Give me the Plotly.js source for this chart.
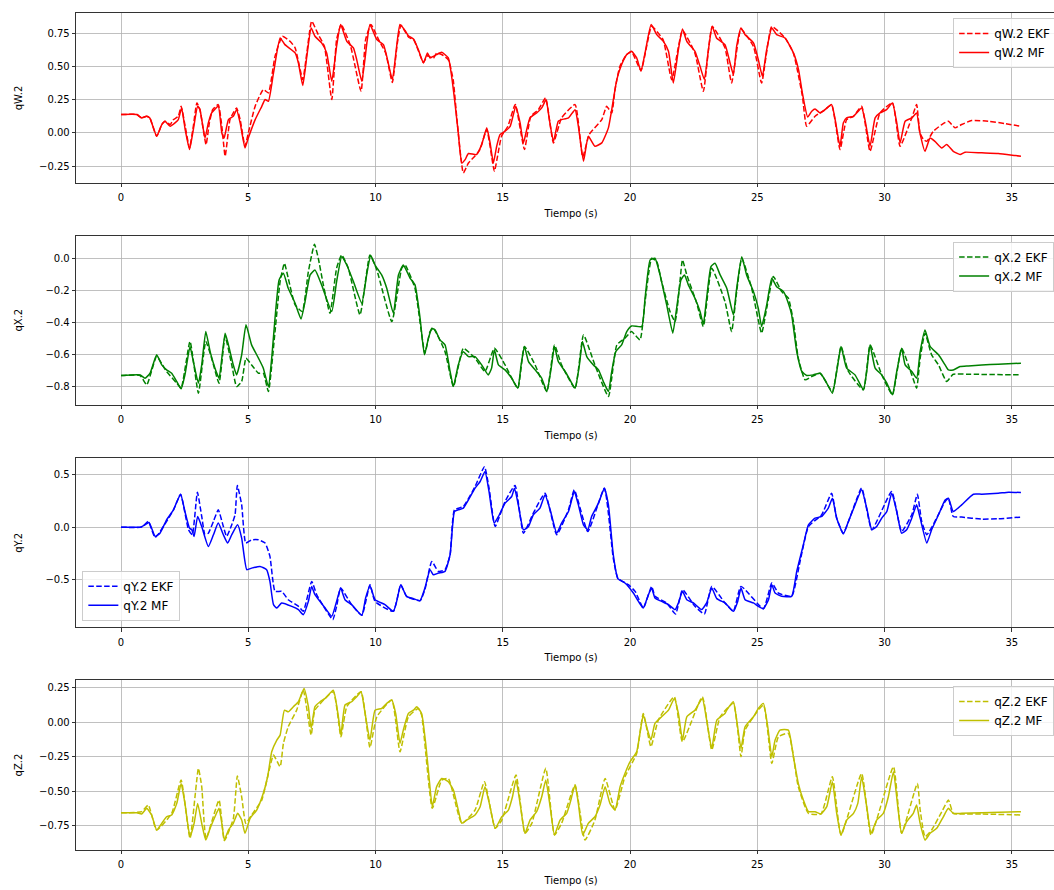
<!DOCTYPE html>
<html>
<head>
<meta charset="utf-8">
<script src="https://cdn.plot.ly/plotly-3.0.1.min.js"></script>
<style>
html,body{margin:0;padding:0;overflow:hidden;background:#fff;}
#chart{width:1080px;height:890px;}
</style>
</head>
<body>
<div id="chart"></div>
<script>
// ---------- qW.2 ----------
const tW_MF = [0,0.62,0.81,1.0,1.13,1.40,1.60,1.73,1.93,2.12,
2.25,2.38,2.52,2.69,2.84,3.01,3.10,3.30,3.43,3.56,
3.82,3.96,4.05,4.22,4.41,4.54,4.68,4.87,5.00,5.27,
5.53,5.66,5.79,5.99,6.25,6.44,6.84,6.97,7.14,7.30,
7.47,7.62,7.88,8.08,8.28,8.47,8.63,8.87,9.13,9.26,
9.46,9.66,9.78,10.05,10.31,10.44,10.66,10.83,10.96,11.16,
11.29,11.49,11.68,11.88,12.04,12.14,12.27,12.40,12.60,12.86,
12.99,13.12,13.25,13.39,13.52,13.65,13.97,14.17,14.37,14.50,
14.63,14.76,14.89,15.09,15.29,15.51,15.68,15.81,15.94,16.07,
16.33,16.53,16.70,16.83,16.99,17.18,17.31,17.58,17.84,17.97,
18.17,18.36,18.62,18.89,19.15,19.28,19.48,19.67,19.87,20.06,
20.26,20.43,20.59,20.83,21.05,21.31,21.51,21.70,21.90,22.06,
22.23,22.55,22.75,22.92,23.08,23.23,23.40,23.73,23.93,24.06,
24.19,24.36,24.52,24.85,25.04,25.20,25.37,25.57,25.76,26.09,
26.42,26.62,26.77,26.98,27.14,27.27,27.47,27.66,27.92,28.06,
28.25,28.38,28.51,28.78,29.10,29.23,29.43,29.63,29.82,30.08,
30.31,30.48,30.61,30.81,31.07,31.26,31.39,31.59,31.79,31.98,
32.25,32.44,32.70,32.97,33.16,33.82,34.47,35.13,35.36];
const qW_MF = [0.138,0.138,0.113,0.125,0.113,-0.025,0.063,0.088,0.050,0.075,
0.100,0.188,0.025,-0.125,0.025,0.200,0.175,-0.038,0.075,0.150,
0.200,0.000,-0.038,0.100,0.125,0.175,0.075,-0.113,-0.038,0.100,
0.200,0.251,0.238,0.451,0.714,0.664,0.602,0.526,0.356,0.576,
0.789,0.727,0.677,0.602,0.388,0.652,0.815,0.689,0.639,0.551,
0.388,0.677,0.815,0.702,0.664,0.576,0.401,0.652,0.815,0.770,
0.731,0.706,0.627,0.526,0.602,0.564,0.576,0.589,0.606,0.564,
0.426,0.226,0.000,-0.226,-0.201,-0.155,-0.163,-0.088,0.038,-0.075,
-0.226,-0.100,-0.013,0.013,0.050,0.201,0.075,-0.075,0.025,0.113,
0.150,0.188,0.251,0.100,-0.063,0.088,0.100,0.113,0.175,0.050,
-0.213,-0.025,-0.100,-0.075,0.038,0.175,0.401,0.514,0.589,0.614,
0.564,0.464,0.602,0.815,0.739,0.689,0.614,0.376,0.627,0.782,
0.689,0.614,0.501,0.401,0.627,0.802,0.714,0.664,0.526,0.439,
0.652,0.789,0.739,0.677,0.551,0.426,0.627,0.789,0.739,0.714,
0.602,0.476,0.301,0.120,0.163,0.180,0.150,0.175,0.213,0.100,
-0.100,0.075,0.113,0.125,0.188,0.100,-0.100,0.113,0.150,0.175,
0.226,0.075,-0.075,0.088,0.113,0.150,0.000,-0.138,-0.038,-0.063,
-0.113,-0.088,-0.138,-0.163,-0.145,-0.150,-0.155,-0.170,-0.175];
const tW_EKF = [0,0.62,0.81,1.0,1.13,1.40,1.60,1.73,1.93,2.06,
2.25,2.36,2.52,2.69,2.84,2.98,3.10,3.34,3.47,3.60,
3.82,3.96,4.09,4.28,4.41,4.54,4.68,4.87,5.00,5.27,
5.59,5.79,6.05,6.34,6.64,6.84,7.14,7.30,7.49,7.75,
7.99,8.28,8.47,8.65,9.02,9.43,9.61,9.82,10.12,10.40,
10.66,10.86,11.00,11.30,11.50,11.68,11.88,12.04,12.27,12.40,
12.60,12.86,13.05,13.20,13.45,13.65,13.90,14.10,14.37,14.50,
14.67,14.95,15.20,15.49,15.85,16.10,16.40,16.68,16.99,17.31,
17.84,18.14,18.40,18.89,19.08,19.28,19.41,19.60,19.87,20.06,
20.43,20.85,21.30,21.64,22.06,22.55,22.88,23.23,23.73,23.99,
24.36,24.85,25.17,25.57,26.09,26.42,26.77,26.94,27.27,27.66,
27.92,28.25,28.51,28.78,29.10,29.43,29.82,30.31,30.61,31.07,
31.26,31.39,31.53,31.66,31.92,32.25,32.51,32.77,33.03,33.42,
34.08,34.73,35.36];
const qW_EKF = [0.138,0.138,0.113,0.125,0.113,-0.025,0.063,0.088,0.063,0.100,
0.125,0.201,0.050,-0.113,0.050,0.226,0.175,-0.088,0.075,0.175,
0.213,0.050,-0.175,0.100,0.150,0.188,0.100,-0.100,0.000,0.201,
0.326,0.301,0.576,0.727,0.689,0.640,0.401,0.602,0.840,0.739,
0.652,0.251,0.702,0.815,0.652,0.313,0.702,0.815,0.702,0.600,
0.380,0.680,0.810,0.720,0.700,0.620,0.530,0.580,0.560,0.600,
0.590,0.550,0.400,0.100,-0.301,-0.226,-0.175,-0.125,0.025,-0.100,
-0.288,-0.025,0.050,0.213,-0.125,0.125,0.175,0.263,-0.075,0.113,
0.213,-0.180,-0.010,0.100,0.200,0.150,0.326,0.500,0.590,0.610,
0.470,0.800,0.700,0.400,0.770,0.600,0.313,0.800,0.640,0.376,
0.780,0.650,0.376,0.800,0.714,0.600,0.280,0.050,0.125,0.175,
0.213,-0.125,0.100,0.125,0.200,-0.138,0.150,0.226,-0.100,0.113,
0.213,0.000,-0.050,-0.063,0.013,0.063,0.088,0.038,0.063,0.093,
0.088,0.070,0.050];

// ---------- qX.2 ----------
const tX_MF = [0,0.75,0.94,1.14,1.40,1.60,1.79,1.99,2.19,2.36,
2.51,2.71,2.84,3.04,3.17,3.33,3.50,3.69,3.85,3.96,
4.09,4.22,4.41,4.54,4.74,4.91,5.13,5.40,5.59,5.79,
5.92,6.05,6.21,6.38,6.57,6.84,7.07,7.23,7.43,7.62,
7.88,8.28,8.47,8.67,8.87,9.13,9.46,9.65,9.81,9.98,
10.24,10.44,10.70,10.90,11.09,11.36,11.55,11.75,11.92,12.08,
12.21,12.34,12.53,12.73,12.93,13.06,13.25,13.45,13.65,13.91,
14.17,14.43,14.56,14.67,14.83,15.09,15.35,15.59,15.72,15.85,
16.01,16.27,16.53,16.73,16.90,17.03,17.18,17.45,17.64,17.84,
18.01,18.13,18.30,18.56,18.76,18.95,19.15,19.28,19.44,19.67,
19.87,20.06,20.46,20.59,20.79,20.98,21.18,21.44,21.68,21.83,
22.00,22.14,22.29,22.55,22.75,22.88,23.01,23.18,23.34,23.54,
23.80,24.06,24.19,24.39,24.58,24.85,25.04,25.17,25.37,25.57,
25.76,26.03,26.22,26.35,26.55,26.75,26.94,27.20,27.47,27.66,
27.95,28.12,28.29,28.51,28.84,29.17,29.30,29.43,29.63,29.89,
30.09,30.31,30.48,30.67,30.81,31.07,31.26,31.40,31.59,31.79,
32.12,32.38,32.51,32.70,32.97,33.29,33.82,34.47,35.36];
const qX_MF = [-0.731,-0.727,-0.748,-0.717,-0.602,-0.665,-0.696,-0.717,-0.769,-0.814,
-0.727,-0.550,-0.644,-0.779,-0.665,-0.457,-0.582,-0.685,-0.748,-0.623,
-0.467,-0.540,-0.665,-0.727,-0.602,-0.415,-0.540,-0.623,-0.685,-0.800,
-0.623,-0.374,-0.135,-0.093,-0.187,-0.280,-0.378,-0.270,-0.104,-0.073,
-0.166,-0.332,-0.145,0.010,-0.042,-0.145,-0.280,-0.104,0.017,-0.042,
-0.104,-0.187,-0.343,-0.104,-0.042,-0.125,-0.166,-0.374,-0.602,-0.498,
-0.436,-0.447,-0.509,-0.540,-0.706,-0.800,-0.665,-0.582,-0.613,-0.613,
-0.665,-0.727,-0.685,-0.571,-0.665,-0.696,-0.748,-0.810,-0.665,-0.550,
-0.644,-0.696,-0.748,-0.831,-0.685,-0.550,-0.644,-0.706,-0.758,-0.810,
-0.665,-0.519,-0.613,-0.665,-0.696,-0.768,-0.831,-0.706,-0.582,-0.540,
-0.457,-0.422,-0.426,-0.249,-0.010,0.000,-0.104,-0.291,-0.467,-0.312,
-0.135,-0.104,-0.166,-0.249,-0.332,-0.411,-0.249,-0.052,-0.031,-0.104,
-0.187,-0.353,-0.187,0.010,-0.104,-0.208,-0.312,-0.426,-0.291,-0.125,
-0.177,-0.208,-0.280,-0.353,-0.582,-0.706,-0.731,-0.727,-0.717,-0.758,
-0.841,-0.706,-0.550,-0.685,-0.727,-0.820,-0.706,-0.540,-0.685,-0.727,
-0.779,-0.851,-0.706,-0.561,-0.665,-0.706,-0.748,-0.582,-0.447,-0.550,
-0.602,-0.665,-0.696,-0.696,-0.675,-0.671,-0.665,-0.660,-0.654];
const tX_EKF = [0,0.75,1.01,1.40,1.79,2.19,2.36,2.71,3.04,3.33,
3.56,3.85,4.09,4.35,4.54,4.74,4.91,5.13,5.40,5.59,
5.79,6.05,6.25,6.42,6.57,6.84,7.12,7.36,7.60,7.75,
7.95,8.21,8.47,8.67,8.93,9.39,9.78,10.05,10.64,11.03,
11.16,11.55,11.94,12.14,12.27,12.73,13.06,13.45,13.91,14.30,
14.67,15.09,15.59,15.85,16.27,16.73,17.03,17.31,17.84,18.17,
18.62,19.15,19.48,19.80,20.06,20.39,20.59,20.85,21.05,21.24,
21.57,21.77,21.96,22.06,22.23,22.62,22.88,23.21,23.73,23.99,
24.19,24.39,24.78,25.17,25.37,25.63,25.96,26.22,26.42,26.61,
26.88,27.14,27.47,27.95,28.29,28.58,29.17,29.43,29.89,30.31,
30.67,31.07,31.26,31.40,31.59,31.85,32.12,32.44,32.70,33.29,
35.36];
const qX_EKF = [-0.731,-0.731,-0.789,-0.613,-0.706,-0.779,-0.810,-0.519,-0.841,-0.519,
-0.623,-0.779,-0.488,-0.665,-0.800,-0.768,-0.623,-0.665,-0.717,-0.717,
-0.831,-0.457,-0.145,-0.031,-0.125,-0.291,-0.332,-0.083,0.087,0.000,
-0.166,-0.343,-0.062,0.021,-0.062,-0.353,0.021,-0.073,-0.395,-0.062,
-0.042,-0.187,-0.592,-0.457,-0.436,-0.582,-0.800,-0.561,-0.623,-0.706,
-0.561,-0.665,-0.810,-0.550,-0.665,-0.831,-0.540,-0.665,-0.810,-0.478,
-0.665,-0.862,-0.540,-0.498,-0.457,-0.509,-0.270,0.000,-0.021,-0.145,
-0.332,-0.395,-0.145,-0.010,-0.104,-0.280,-0.426,-0.062,-0.270,-0.457,
-0.208,0.000,-0.187,-0.467,-0.312,-0.114,-0.208,-0.249,-0.395,-0.623,
-0.758,-0.737,-0.717,-0.831,-0.550,-0.706,-0.820,-0.540,-0.727,-0.851,
-0.561,-0.727,-0.810,-0.623,-0.467,-0.602,-0.665,-0.768,-0.723,-0.723,
-0.727];

// ---------- qY.2 ----------
const tY_MF = [0,0.75,0.94,1.10,1.34,1.53,1.79,2.06,2.34,2.51,
2.69,2.78,2.87,3.01,3.17,3.43,3.63,3.82,4.02,4.19,
4.35,4.58,4.74,4.94,5.13,5.46,5.72,5.85,5.99,6.12,
6.31,6.71,6.97,7.16,7.36,7.49,7.62,8.02,8.28,8.47,
8.63,8.80,9.06,9.46,9.61,9.78,9.98,10.37,10.70,10.83,
10.99,11.22,11.49,11.75,11.94,12.14,12.27,12.47,12.73,12.93,
13.10,13.25,13.45,13.65,13.91,14.11,14.30,14.46,14.66,14.83,
15.09,15.35,15.46,15.61,15.81,16.01,16.20,16.46,16.66,16.86,
17.12,17.31,17.58,17.81,17.97,18.17,18.34,18.49,18.76,18.99,
19.15,19.34,19.52,19.80,20.13,20.33,20.52,20.72,20.85,20.98,
21.24,21.51,21.77,21.90,22.06,22.23,22.49,22.81,23.01,23.21,
23.41,23.73,23.86,24.06,24.23,24.36,24.52,24.85,25.04,25.24,
25.44,25.57,25.70,25.96,26.35,26.55,26.81,27.01,27.27,27.53,
27.79,27.95,28.12,28.38,28.58,28.84,29.10,29.30,29.50,29.69,
29.89,30.09,30.28,30.48,30.67,30.87,31.07,31.26,31.40,31.66,
31.85,32.12,32.38,32.51,32.70,33.03,33.49,33.82,34.47,34.87,
35.36];
const qY_MF = [0,0,0.022,0.044,-0.088,-0.057,0.069,0.164,0.312,0.148,
-0.009,-0.025,-0.088,0.101,0.006,-0.183,-0.072,0.038,-0.072,-0.151,
-0.072,0.022,-0.104,-0.403,-0.388,-0.372,-0.403,-0.514,-0.734,-0.766,
-0.718,-0.750,-0.781,-0.829,-0.703,-0.561,-0.640,-0.766,-0.844,-0.703,
-0.577,-0.687,-0.734,-0.835,-0.671,-0.555,-0.687,-0.734,-0.797,-0.703,
-0.545,-0.655,-0.677,-0.696,-0.577,-0.403,-0.451,-0.435,-0.419,-0.261,
0.148,0.164,0.180,0.258,0.369,0.432,0.526,0.337,0.038,0.101,
0.227,0.290,0.369,0.211,-0.025,0.006,0.117,0.180,0.306,0.164,
-0.057,0.038,0.148,0.337,0.211,0.022,-0.025,0.101,0.227,0.369,
0.211,-0.261,-0.488,-0.529,-0.624,-0.703,-0.766,-0.640,-0.577,-0.671,
-0.703,-0.734,-0.781,-0.718,-0.608,-0.687,-0.718,-0.781,-0.718,-0.577,
-0.677,-0.718,-0.750,-0.797,-0.703,-0.577,-0.687,-0.718,-0.750,-0.772,
-0.687,-0.545,-0.624,-0.655,-0.655,-0.419,-0.167,0.022,0.085,0.101,
0.180,0.274,0.085,-0.066,0.054,0.211,0.353,0.180,-0.025,0.006,
0.085,0.148,0.321,0.148,-0.057,-0.025,0.085,0.211,0.085,-0.151,
-0.025,0.117,0.258,0.274,0.148,0.211,0.312,0.312,0.321,0.331,
0.328];
const tY_EKF = [0,0.81,1.07,1.34,2.06,2.34,2.65,2.80,3.00,3.17,
3.30,3.43,3.63,3.82,4.02,4.15,4.35,4.48,4.57,4.74,
4.90,5.13,5.40,5.66,5.85,6.05,6.31,6.57,6.97,7.16,
7.49,7.69,8.08,8.32,8.47,8.63,9.06,9.46,9.78,9.98,
10.70,10.99,11.22,11.75,11.94,12.21,12.47,12.73,12.93,13.10,13.45,
13.91,14.28,14.46,14.70,15.09,15.48,15.81,16.20,16.66,17.12,
17.58,17.81,18.34,18.99,19.34,19.52,19.93,20.20,20.52,20.85,
20.98,21.44,21.79,22.06,22.55,22.92,23.21,23.73,24.06,24.36,
25.24,25.57,25.83,26.35,26.68,27.01,27.53,27.92,28.12,28.38,
29.10,29.50,30.28,30.67,31.07,31.29,31.46,31.66,31.98,32.38,
32.51,32.70,33.03,33.82,34.47,35.36];
const qY_EKF = [0,0,0.054,-0.098,0.164,0.312,-0.025,-0.072,0.331,0.101,
-0.072,-0.057,0.054,0.164,0.006,-0.088,0.022,0.117,0.394,0.211,
-0.151,-0.120,-0.120,-0.151,-0.277,-0.608,-0.608,-0.687,-0.750,-0.797,
-0.514,-0.640,-0.797,-0.876,-0.750,-0.577,-0.734,-0.835,-0.545,-0.703,
-0.797,-0.545,-0.655,-0.696,-0.590,-0.325,-0.419,-0.403,-0.261,0.164,0.195,
0.384,0.573,0.369,0.006,0.243,0.394,-0.057,0.132,0.321,-0.072,
0.164,0.353,-0.041,0.369,-0.293,-0.482,-0.545,-0.608,-0.766,-0.561,
-0.655,-0.718,-0.822,-0.592,-0.750,-0.822,-0.561,-0.718,-0.797,-0.561,
-0.772,-0.529,-0.624,-0.655,-0.325,0.006,0.117,0.321,0.085,-0.057,
0.369,-0.025,0.337,-0.041,0.117,0.312,0.054,-0.072,0.054,0.243,
0.274,0.101,0.095,0.076,0.079,0.095];

// ---------- qZ.2 ----------
const tZ_MF = [0,0.62,0.81,1.01,1.20,1.40,1.60,1.79,1.99,2.19,
2.36,2.51,2.71,2.87,3.01,3.17,3.33,3.50,3.69,3.85,
3.96,4.06,4.22,4.41,4.58,4.74,4.87,5.07,5.33,5.59,
5.76,5.92,6.12,6.25,6.42,6.57,6.77,6.97,7.19,7.36,
7.47,7.62,7.82,8.02,8.34,8.54,8.64,8.80,9.06,9.26,
9.43,9.59,9.78,9.98,10.24,10.44,10.64,10.79,10.96,11.09,
11.29,11.49,11.62,11.81,11.97,12.10,12.23,12.40,12.60,12.86,
13.06,13.25,13.39,13.58,13.91,14.11,14.30,14.50,14.70,14.96,
15.22,15.38,15.52,15.68,15.87,16.07,16.33,16.53,16.69,16.86,
17.03,17.25,17.51,17.64,17.84,17.97,18.14,18.36,18.62,18.82,
19.02,19.21,19.41,19.61,19.80,20.00,20.26,20.52,20.69,20.82,
20.98,21.24,21.51,21.74,21.90,22.06,22.23,22.55,22.84,23.01,
23.21,23.41,23.73,23.80,24.06,24.19,24.36,24.52,24.85,25.04,
25.24,25.41,25.57,25.70,25.89,26.22,26.42,26.61,26.81,27.01,
27.27,27.50,27.73,27.95,28.12,28.29,28.51,28.78,28.95,29.10,
29.30,29.47,29.69,29.95,30.15,30.35,30.52,30.67,30.87,31.13,
31.26,31.40,31.59,31.79,32.05,32.31,32.51,32.70,33.03,33.82,
35.36];
const qZ_MF = [-0.655,-0.655,-0.664,-0.623,-0.671,-0.780,-0.732,-0.684,-0.671,-0.587,
-0.442,-0.587,-0.829,-0.732,-0.587,-0.732,-0.853,-0.768,-0.684,-0.623,
-0.732,-0.853,-0.780,-0.732,-0.659,-0.708,-0.804,-0.696,-0.635,-0.514,
-0.394,-0.213,-0.128,-0.092,0.089,0.077,0.114,0.150,0.246,0.114,
-0.043,0.114,0.150,0.174,0.234,0.041,-0.092,0.126,0.150,0.186,
0.222,0.065,-0.128,0.089,0.101,0.138,0.162,0.065,-0.152,-0.056,
0.065,0.089,0.114,0.065,-0.152,-0.394,-0.611,-0.466,-0.406,-0.430,
-0.490,-0.635,-0.732,-0.708,-0.671,-0.611,-0.466,-0.611,-0.768,-0.684,
-0.635,-0.539,-0.418,-0.587,-0.804,-0.708,-0.647,-0.539,-0.418,-0.611,
-0.816,-0.708,-0.659,-0.587,-0.454,-0.587,-0.816,-0.732,-0.684,-0.599,
-0.466,-0.587,-0.635,-0.466,-0.370,-0.285,-0.213,0.053,-0.056,-0.128,
-0.007,0.041,0.089,0.174,0.065,-0.128,0.041,0.089,0.174,0.017,
-0.188,0.017,0.065,0.089,0.150,0.017,-0.188,-0.031,0.041,0.101,
0.138,-0.031,-0.249,-0.128,-0.056,-0.056,-0.249,-0.442,-0.563,-0.647,
-0.647,-0.664,-0.611,-0.430,-0.659,-0.816,-0.708,-0.659,-0.587,-0.394,
-0.611,-0.804,-0.708,-0.659,-0.539,-0.357,-0.611,-0.804,-0.720,-0.659,
-0.599,-0.732,-0.853,-0.804,-0.768,-0.684,-0.623,-0.659,-0.659,-0.655,
-0.647];
const tZ_EKF = [0,0.81,1.07,1.40,1.99,2.36,2.71,3.04,3.17,3.34,
3.85,4.06,4.41,4.57,4.74,4.90,5.13,5.53,5.79,5.99,6.25,
6.38,6.57,6.90,7.16,7.47,7.62,8.34,8.64,8.87,9.43,
9.78,10.05,10.64,10.96,11.29,11.68,11.81,12.23,12.60,12.86,
13.39,13.91,14.28,14.70,14.96,15.52,15.87,16.14,16.69,17.03,
17.31,17.84,18.23,18.62,19.02,19.41,19.80,20.26,20.52,20.82,
21.11,21.74,22.06,22.84,23.21,23.54,24.06,24.36,24.52,25.24,
25.57,25.83,26.22,26.61,27.01,27.50,27.95,28.29,29.10,29.47,
30.35,30.67,31.29,31.40,31.59,31.85,32.25,32.51,32.70,33.03,
33.82,35.36];
const qZ_EKF = [-0.655,-0.647,-0.599,-0.780,-0.659,-0.418,-0.841,-0.333,-0.466,-0.841,
-0.563,-0.857,-0.700,-0.389,-0.539,-0.732,-0.671,-0.563,-0.370,-0.237,-0.321,
-0.152,-0.031,0.089,0.234,-0.092,0.089,0.222,-0.104,0.114,0.222,
-0.181,0.041,0.162,-0.213,0.041,0.101,0.053,-0.623,-0.418,-0.406,
-0.732,-0.635,-0.430,-0.768,-0.708,-0.382,-0.804,-0.732,-0.333,-0.816,
-0.732,-0.454,-0.853,-0.708,-0.406,-0.635,-0.394,-0.225,0.065,-0.176,
0.017,0.186,-0.140,0.186,-0.200,0.041,0.138,-0.249,-0.056,0.126,
-0.297,-0.104,-0.080,-0.466,-0.659,-0.664,-0.394,-0.816,-0.370,-0.816,
-0.321,-0.804,-0.442,-0.635,-0.829,-0.780,-0.647,-0.563,-0.659,-0.664,
-0.664,-0.671];

const panelNames = ['qW.2','qX.2','qY.2','qZ.2'];
const panelColors = ['#ff0000','#008000','#0000ff','#bfbf00'];
const xTitle = 'Tiempo (s)';

const series = [
  [tW_EKF,qW_EKF,tW_MF,qW_MF],
  [tX_EKF,qX_EKF,tX_MF,qX_MF],
  [tY_EKF,qY_EKF,tY_MF,qY_MF],
  [tZ_EKF,qZ_EKF,tZ_MF,qZ_MF]
];

const traces = [];
series.forEach((s,i)=>{
  const ax = i===0 ? '' : String(i+1);
  const lg = i===0 ? 'legend' : 'legend'+(i+1);
  traces.push({x:s[0],y:s[1],type:'scatter',mode:'lines',name:panelNames[i]+' EKF',
    line:{color:panelColors[i],width:1.5,dash:'5.5px,2.4px',shape:'spline',smoothing:0.45},
    xaxis:'x'+ax,yaxis:'y'+ax,legend:lg,hoverinfo:'skip'});
  traces.push({x:s[2],y:s[3],type:'scatter',mode:'lines',name:panelNames[i]+' MF',
    line:{color:panelColors[i],width:1.5,shape:'spline',smoothing:0.45},
    xaxis:'x'+ax,yaxis:'y'+ax,legend:lg,hoverinfo:'skip'});
});

const common = {showline:true,mirror:true,linecolor:'#000',linewidth:0.8,
  ticks:'outside',ticklen:3.5,tickwidth:0.8,tickcolor:'#000',
  showgrid:true,gridcolor:'#b0b0b0',gridwidth:0.8,zeroline:false,
  tickfont:{family:'DejaVu Sans',size:10,color:'#000'},automargin:false};

const domains = [[0.797,1.0],[0.532,0.734],[0.266,0.468],[0.0,0.203]];
const yranges = [[-0.376,0.902],[-0.913,0.141],[-0.949,0.652],[-0.925,0.307]];
const ydticks = [0.25,0.2,0.5,0.25];
const yformats = ['.2f','.1f','.1f','.2f'];
const ystand = [14,20,20,14];

const layout = {
  width:1080,height:890,
  margin:{l:76,r:14,t:13,b:40},
  paper_bgcolor:'#fff',plot_bgcolor:'#fff',
  font:{family:'DejaVu Sans',size:10,color:'#000'},
  showlegend:true
};
for(let i=0;i<4;i++){
  const ax = i===0 ? '' : String(i+1);
  layout['xaxis'+ax] = Object.assign({},common,{domain:[0,1],anchor:'y'+ax,range:[-1.77,37.13],
    tick0:0,dtick:5,ticklabelstandoff:2,
    title:{text:xTitle,standoff:7,font:{family:'DejaVu Sans',size:10,color:'#000'}}});
  layout['yaxis'+ax] = Object.assign({},common,{domain:domains[i],anchor:'x'+ax,range:yranges[i],
    tick0:0,dtick:ydticks[i],tickformat:yformats[i],
    title:{text:panelNames[i],standoff:ystand[i],font:{family:'DejaVu Sans',size:10,color:'#000'}}});
}
const legBase = {bgcolor:'rgba(255,255,255,0.8)',bordercolor:'#cccccc',borderwidth:1,
  font:{family:'DejaVu Sans',size:12,color:'#000'},tracegroupgap:0,itemwidth:30};
layout.legend  = Object.assign({},legBase,{x:0.886,xanchor:'left',y:0.994,yanchor:'top'});
layout.legend2 = Object.assign({},legBase,{x:0.886,xanchor:'left',y:0.727,yanchor:'top'});
layout.legend3 = Object.assign({},legBase,{x:0.0064,xanchor:'left',y:0.274,yanchor:'bottom'});
layout.legend4 = Object.assign({},legBase,{x:0.886,xanchor:'left',y:0.196,yanchor:'top'});

Plotly.newPlot('chart',traces,layout,{displayModeBar:false,staticPlot:true});
</script>
</body>
</html>
